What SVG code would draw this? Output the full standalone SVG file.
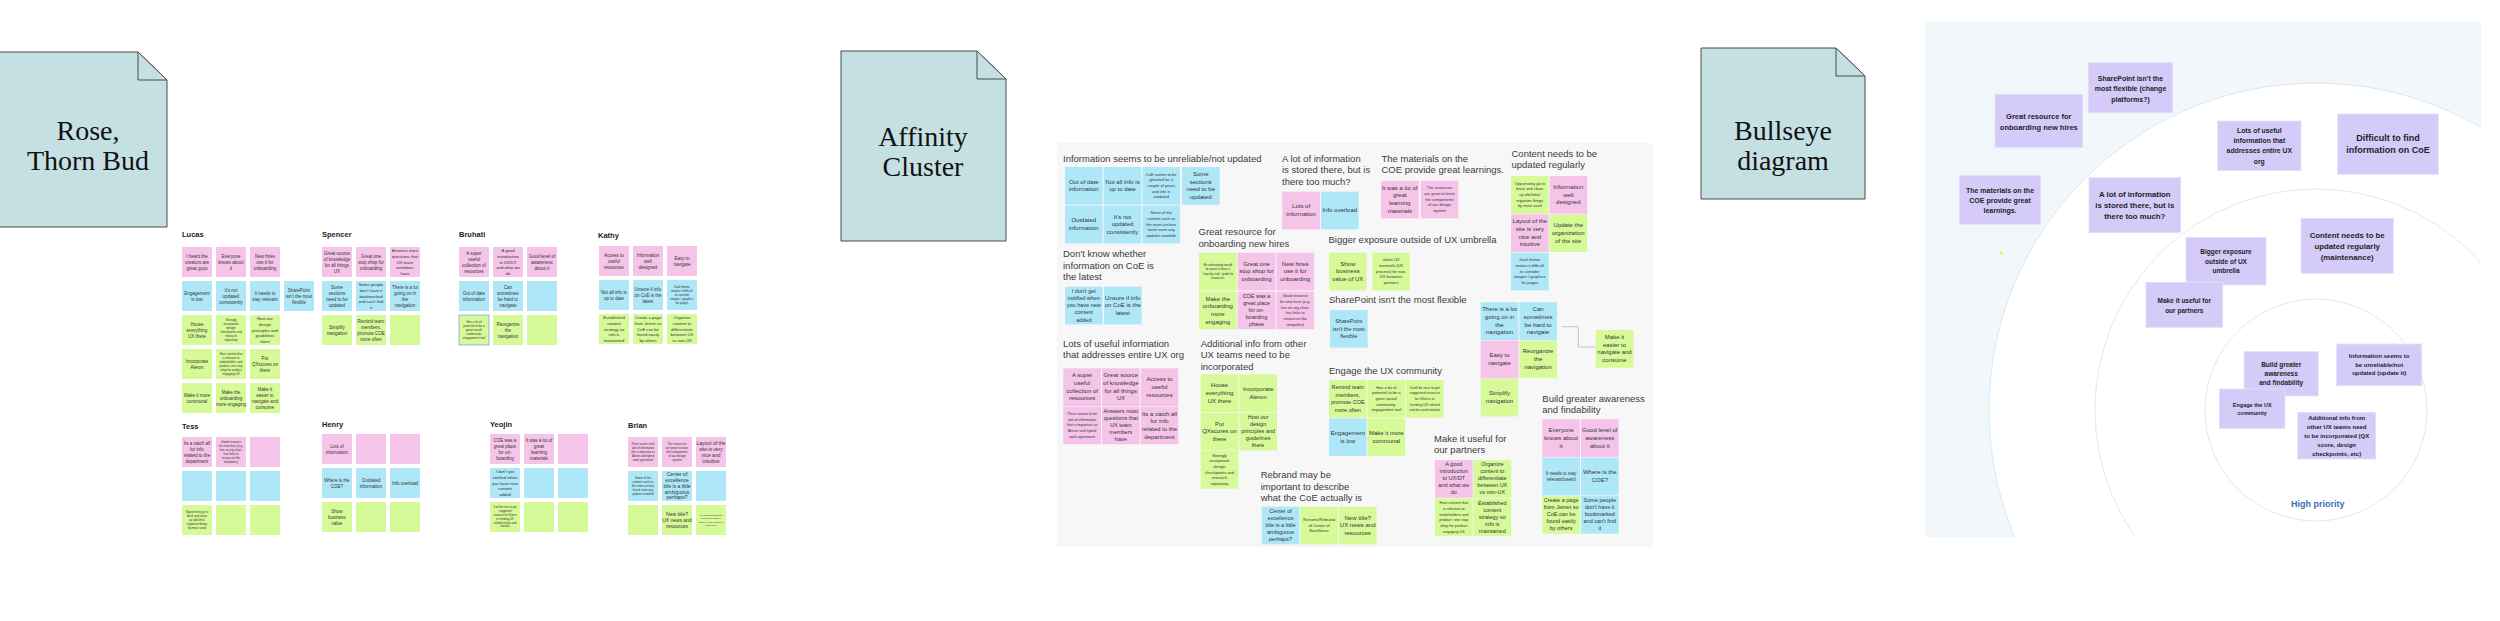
<svg xmlns="http://www.w3.org/2000/svg" width="2500" height="621" viewBox="0 0 2500 621">
<style>
.doc{fill:#c5e0e3;stroke:#4a4a4a;stroke-width:1}
.fold{fill:#c5e0e3;stroke:#4a4a4a;stroke-width:1}
.dt{font-family:"Liberation Serif","Times New Roman",serif;font-size:28px;fill:#111;text-anchor:middle}
.p{fill:#f6c4e9}.b{fill:#aee8f8}.g{fill:#d7fa98}
.t{font-family:"Liberation Sans",Arial,sans-serif;fill:#333;text-anchor:middle}
.nm{font-family:"Liberation Sans",Arial,sans-serif;font-weight:bold;font-size:7.5px;fill:#222}
.h{font-family:"Liberation Sans",Arial,sans-serif;font-size:9.5px;fill:#3b3b3b}
.pu{fill:#d5cbf9;stroke:#e4defb;stroke-width:0.8}
.bt{font-family:"Liberation Sans",Arial,sans-serif;font-weight:bold;fill:#1e1e28;text-anchor:middle}
.ring{fill:none;stroke:#dce8f2;stroke-width:1}
.conn{fill:none;stroke:#c4c4c4;stroke-width:1}
</style>
<defs>
<clipPath id="bclip"><rect x="1925" y="22" width="556" height="515"/></clipPath>
</defs>
<rect width="2500" height="621" fill="#ffffff"/>

<!-- Section documents -->
<g id="doc-rose">
<path class="doc" d="M-1,52 H138 L167,80 V227 H-1 Z"/>
<path class="fold" d="M138,52 V80 H167 Z"/>
<text class="dt" x="88" y="140">Rose,</text>
<text class="dt" x="88" y="170">Thorn Bud</text>
</g>
<g id="doc-affinity">
<path class="doc" d="M841,51 H977 L1006,79 V241 H841 Z"/>
<path class="fold" d="M977,51 V79 H1006 Z"/>
<text class="dt" x="923" y="146">Affinity</text>
<text class="dt" x="923" y="176">Cluster</text>
</g>
<g id="doc-bullseye">
<path class="doc" d="M1701,48 H1836 L1865,76 V199 H1701 Z"/>
<path class="fold" d="M1836,48 V76 H1865 Z"/>
<text class="dt" x="1783" y="140">Bullseye</text>
<text class="dt" x="1783" y="170">diagram</text>
</g>

<!-- ROSE THORN BUD -->
<g id="rtb-lucas">
<text class="nm" x="182" y="237">Lucas</text>
<rect class="p" x="182" y="247" width="30" height="30"/><text class="t" font-size="4.5" x="197" y="257.6"><tspan x="197">I heard the</tspan><tspan x="197" dy="6">creators are</tspan><tspan x="197" dy="6">great guys</tspan></text>
<rect class="p" x="216" y="247" width="30" height="30"/><text class="t" font-size="4.5" x="231" y="257.6"><tspan x="231">Everyone</tspan><tspan x="231" dy="6">knows about</tspan><tspan x="231" dy="6">it</tspan></text>
<rect class="p" x="250" y="247" width="30" height="30"/><text class="t" font-size="4.5" x="265" y="257.6"><tspan x="265">New hires</tspan><tspan x="265" dy="6">use it for</tspan><tspan x="265" dy="6">onboarding</tspan></text>
<rect class="b" x="182" y="281" width="30" height="30"/><text class="t" font-size="4.5" x="197" y="294.6"><tspan x="197">Engagement</tspan><tspan x="197" dy="6">is low</tspan></text>
<rect class="b" x="216" y="281" width="30" height="30"/><text class="t" font-size="4.5" x="231" y="291.6"><tspan x="231">It's not</tspan><tspan x="231" dy="6">updated</tspan><tspan x="231" dy="6">consistently</tspan></text>
<rect class="b" x="250" y="281" width="30" height="30"/><text class="t" font-size="4.5" x="265" y="294.6"><tspan x="265">It needs to</tspan><tspan x="265" dy="6">stay relevant</tspan></text>
<rect class="b" x="284" y="281" width="30" height="30"/><text class="t" font-size="4.5" x="299" y="291.6"><tspan x="299">SharePoint</tspan><tspan x="299" dy="6">isn't the most</tspan><tspan x="299" dy="6">flexible</tspan></text>
<rect class="g" x="182" y="315" width="30" height="30"/><text class="t" font-size="4.5" x="197" y="325.6"><tspan x="197">House</tspan><tspan x="197" dy="6">everything</tspan><tspan x="197" dy="6">UX there</tspan></text>
<rect class="g" x="216" y="315" width="30" height="30"/><text class="t" font-size="3" x="231" y="321.05"><tspan x="231">Strongly</tspan><tspan x="231" dy="4">incorporate</tspan><tspan x="231" dy="4">design</tspan><tspan x="231" dy="4">checkpoints and</tspan><tspan x="231" dy="4">research</tspan><tspan x="231" dy="4">repository</tspan></text>
<rect class="g" x="250" y="315" width="30" height="30"/><text class="t" font-size="4.2" x="265" y="320.3"><tspan x="265">Host our</tspan><tspan x="265" dy="5.6">design</tspan><tspan x="265" dy="5.6">principles and</tspan><tspan x="265" dy="5.6">guidelines</tspan><tspan x="265" dy="5.6">there</tspan></text>
<rect class="g" x="182" y="349" width="30" height="30"/><text class="t" font-size="4.5" x="197" y="362.6"><tspan x="197">Incorporate</tspan><tspan x="197" dy="6">Aleron</tspan></text>
<rect class="g" x="216" y="349" width="30" height="30"/><text class="t" font-size="3" x="231" y="355.05"><tspan x="231">Host content that</tspan><tspan x="231" dy="4">is relevant to</tspan><tspan x="231" dy="4">stakeholders and</tspan><tspan x="231" dy="4">product; one stop</tspan><tspan x="231" dy="4">shop for product</tspan><tspan x="231" dy="4">engaging UX</tspan></text>
<rect class="g" x="250" y="349" width="30" height="30"/><text class="t" font-size="4.5" x="265" y="359.6"><tspan x="265">Put</tspan><tspan x="265" dy="6">QXscores on</tspan><tspan x="265" dy="6">there</tspan></text>
<rect class="g" x="182" y="383" width="30" height="30"/><text class="t" font-size="4.5" x="197" y="396.6"><tspan x="197">Make it more</tspan><tspan x="197" dy="6">communal</tspan></text>
<rect class="g" x="216" y="383" width="30" height="30"/><text class="t" font-size="4.5" x="231" y="393.6"><tspan x="231">Make the</tspan><tspan x="231" dy="6">onboarding</tspan><tspan x="231" dy="6">more engaging</tspan></text>
<rect class="g" x="250" y="383" width="30" height="30"/><text class="t" font-size="4.5" x="265" y="390.6"><tspan x="265">Make it</tspan><tspan x="265" dy="6">easier to</tspan><tspan x="265" dy="6">navigate and</tspan><tspan x="265" dy="6">consume</tspan></text>
</g>

<g id="rtb-spencer">
<text class="nm" x="322" y="237">Spencer</text>
<rect class="p" x="322" y="247" width="30" height="30"/><text class="t" font-size="4.5" x="337" y="254.6"><tspan x="337">Great source</tspan><tspan x="337" dy="6">of knowledge</tspan><tspan x="337" dy="6">for all things</tspan><tspan x="337" dy="6">UX</tspan></text>
<rect class="p" x="356" y="247" width="30" height="30"/><text class="t" font-size="4.5" x="371" y="257.6"><tspan x="371">Great one</tspan><tspan x="371" dy="6">stop shop for</tspan><tspan x="371" dy="6">onboarding</tspan></text>
<rect class="p" x="390" y="247" width="30" height="30"/><text class="t" font-size="4.2" x="405" y="252.3"><tspan x="405">Answers most</tspan><tspan x="405" dy="5.6">questions that</tspan><tspan x="405" dy="5.6">UX team</tspan><tspan x="405" dy="5.6">members</tspan><tspan x="405" dy="5.6">have</tspan></text>
<rect class="b" x="322" y="281" width="30" height="30"/><text class="t" font-size="4.5" x="337" y="288.6"><tspan x="337">Some</tspan><tspan x="337" dy="6">sections</tspan><tspan x="337" dy="6">need to be</tspan><tspan x="337" dy="6">updated</tspan></text>
<rect class="b" x="356" y="281" width="30" height="30"/><text class="t" font-size="4.2" x="371" y="286.3"><tspan x="371">Some people</tspan><tspan x="371" dy="5.6">don't have it</tspan><tspan x="371" dy="5.6">bookmarked</tspan><tspan x="371" dy="5.6">and can't find</tspan><tspan x="371" dy="5.6">it</tspan></text>
<rect class="b" x="390" y="281" width="30" height="30"/><text class="t" font-size="4.5" x="405" y="288.6"><tspan x="405">There is a lot</tspan><tspan x="405" dy="6">going on in</tspan><tspan x="405" dy="6">the</tspan><tspan x="405" dy="6">navigation</tspan></text>
<rect class="g" x="322" y="315" width="30" height="30"/><text class="t" font-size="4.5" x="337" y="328.6"><tspan x="337">Simplify</tspan><tspan x="337" dy="6">navigation</tspan></text>
<rect class="g" x="356" y="315" width="30" height="30"/><text class="t" font-size="4.5" x="371" y="322.6"><tspan x="371">Remind team</tspan><tspan x="371" dy="6">members,</tspan><tspan x="371" dy="6">promote COE</tspan><tspan x="371" dy="6">more often</tspan></text>
<rect class="g" x="390" y="315" width="30" height="30"/>
</g>

<g id="rtb-bruhati">
<text class="nm" x="459" y="237">Bruhati</text>
<rect class="p" x="459" y="247" width="30" height="30"/><text class="t" font-size="4.5" x="474" y="254.6"><tspan x="474">A super</tspan><tspan x="474" dy="6">useful</tspan><tspan x="474" dy="6">collection of</tspan><tspan x="474" dy="6">resources</tspan></text>
<rect class="p" x="493" y="247" width="30" height="30"/><text class="t" font-size="4.2" x="508" y="252.3"><tspan x="508">A good</tspan><tspan x="508" dy="5.6">introduction</tspan><tspan x="508" dy="5.6">to UX/DT</tspan><tspan x="508" dy="5.6">and what we</tspan><tspan x="508" dy="5.6">do</tspan></text>
<rect class="p" x="527" y="247" width="30" height="30"/><text class="t" font-size="4.5" x="542" y="257.6"><tspan x="542">Good level of</tspan><tspan x="542" dy="6">awareness</tspan><tspan x="542" dy="6">about it</tspan></text>
<rect class="b" x="459" y="281" width="30" height="30"/><text class="t" font-size="4.5" x="474" y="294.6"><tspan x="474">Out of date</tspan><tspan x="474" dy="6">information</tspan></text>
<rect class="b" x="493" y="281" width="30" height="30"/><text class="t" font-size="4.5" x="508" y="288.6"><tspan x="508">Can</tspan><tspan x="508" dy="6">sometimes</tspan><tspan x="508" dy="6">be hard to</tspan><tspan x="508" dy="6">navigate</tspan></text>
<rect class="b" x="527" y="281" width="30" height="30"/>
<rect class="g" x="459" y="315" width="30" height="30" stroke="#7fa8e6" stroke-width="0.8"/><text class="t" font-size="3" x="474" y="323.05"><tspan x="474">Has a lot of</tspan><tspan x="474" dy="4">potential to be a</tspan><tspan x="474" dy="4">great social/</tspan><tspan x="474" dy="4">community-</tspan><tspan x="474" dy="4">engagement tool</tspan></text>
<rect class="g" x="493" y="315" width="30" height="30"/><text class="t" font-size="4.5" x="508" y="325.6"><tspan x="508">Reorganize</tspan><tspan x="508" dy="6">the</tspan><tspan x="508" dy="6">navigation</tspan></text>
<rect class="g" x="527" y="315" width="30" height="30"/>
</g>

<g id="rtb-kathy">
<text class="nm" x="598" y="237.5">Kathy</text>
<rect class="p" x="599" y="246" width="30" height="30"/><text class="t" font-size="4.5" x="614" y="256.6"><tspan x="614">Access to</tspan><tspan x="614" dy="6">useful</tspan><tspan x="614" dy="6">resources</tspan></text>
<rect class="p" x="633" y="246" width="30" height="30"/><text class="t" font-size="4.5" x="648" y="256.6"><tspan x="648">Information</tspan><tspan x="648" dy="6">well</tspan><tspan x="648" dy="6">designed</tspan></text>
<rect class="p" x="667" y="246" width="30" height="30"/><text class="t" font-size="4.5" x="682" y="259.6"><tspan x="682">Easy to</tspan><tspan x="682" dy="6">navigate</tspan></text>
<rect class="b" x="599" y="280" width="30" height="30"/><text class="t" font-size="4.5" x="614" y="293.6"><tspan x="614">Not all info is</tspan><tspan x="614" dy="6">up to date</tspan></text>
<rect class="b" x="633" y="280" width="30" height="30"/><text class="t" font-size="4.5" x="648" y="290.6"><tspan x="648">Unsure if info</tspan><tspan x="648" dy="6">on CoE is the</tspan><tspan x="648" dy="6">latest</tspan></text>
<rect class="b" x="667" y="280" width="30" height="30"/><text class="t" font-size="3" x="682" y="288.05"><tspan x="682">Dark theme</tspan><tspan x="682" dy="4">makes it difficult</tspan><tspan x="682" dy="4">to consider</tspan><tspan x="682" dy="4">images / graphics</tspan><tspan x="682" dy="4">for pages</tspan></text>
<rect class="g" x="599" y="314" width="30" height="30"/><text class="t" font-size="4.2" x="614" y="319.3"><tspan x="614">Established</tspan><tspan x="614" dy="5.6">content</tspan><tspan x="614" dy="5.6">strategy so</tspan><tspan x="614" dy="5.6">info is</tspan><tspan x="614" dy="5.6">maintained</tspan></text>
<rect class="g" x="633" y="314" width="30" height="30"/><text class="t" font-size="4.2" x="648" y="319.3"><tspan x="648">Create a page</tspan><tspan x="648" dy="5.6">from Jetnet so</tspan><tspan x="648" dy="5.6">CoE can be</tspan><tspan x="648" dy="5.6">found easily</tspan><tspan x="648" dy="5.6">by others</tspan></text>
<rect class="g" x="667" y="314" width="30" height="30"/><text class="t" font-size="4.2" x="682" y="319.3"><tspan x="682">Organize</tspan><tspan x="682" dy="5.6">content to</tspan><tspan x="682" dy="5.6">differentiate</tspan><tspan x="682" dy="5.6">between UX</tspan><tspan x="682" dy="5.6">vs non-UX</tspan></text>
</g>

<g id="rtb-tess">
<text class="nm" x="182" y="429">Tess</text>
<rect class="p" x="182" y="437" width="30" height="30"/><text class="t" font-size="4.5" x="197" y="444.6"><tspan x="197">Its a catch all</tspan><tspan x="197" dy="6">for info</tspan><tspan x="197" dy="6">related to the</tspan><tspan x="197" dy="6">department</tspan></text>
<rect class="p" x="216" y="437" width="30" height="30"/><text class="t" font-size="3" x="231" y="443.05"><tspan x="231">Good resource</tspan><tspan x="231" dy="4">for new hires (e.g.</tspan><tspan x="231" dy="4">has an org chart,</tspan><tspan x="231" dy="4">has links to</tspan><tspan x="231" dy="4">resources like</tspan><tspan x="231" dy="4">templates)</tspan></text>
<rect class="p" x="250" y="437" width="30" height="30"/>
<rect class="b" x="182" y="471" width="30" height="30"/>
<rect class="b" x="216" y="471" width="30" height="30"/>
<rect class="b" x="250" y="471" width="30" height="30"/>
<rect class="g" x="182" y="505" width="30" height="30"/><text class="t" font-size="3" x="197" y="513.05"><tspan x="197">Opportunity go to</tspan><tspan x="197" dy="4">back and clean</tspan><tspan x="197" dy="4">up old links/</tspan><tspan x="197" dy="4">organize things</tspan><tspan x="197" dy="4">by most used</tspan></text>
<rect class="g" x="216" y="505" width="30" height="30"/>
<rect class="g" x="250" y="505" width="30" height="30"/>
</g>

<g id="rtb-henry">
<text class="nm" x="322" y="426.5">Henry</text>
<rect class="p" x="322" y="434" width="30" height="30"/><text class="t" font-size="4.5" x="337" y="447.6"><tspan x="337">Lots of</tspan><tspan x="337" dy="6">information</tspan></text>
<rect class="p" x="356" y="434" width="30" height="30"/>
<rect class="p" x="390" y="434" width="30" height="30"/>
<rect class="b" x="322" y="468" width="30" height="30"/><text class="t" font-size="4.5" x="337" y="481.6"><tspan x="337">Where is the</tspan><tspan x="337" dy="6">COE?</tspan></text>
<rect class="b" x="356" y="468" width="30" height="30"/><text class="t" font-size="4.5" x="371" y="481.6"><tspan x="371">Outdated</tspan><tspan x="371" dy="6">information</tspan></text>
<rect class="b" x="390" y="468" width="30" height="30"/><text class="t" font-size="4.5" x="405" y="484.6">Info overload</text>
<rect class="g" x="322" y="502" width="30" height="30"/><text class="t" font-size="4.5" x="337" y="512.6"><tspan x="337">Show</tspan><tspan x="337" dy="6">business</tspan><tspan x="337" dy="6">value</tspan></text>
<rect class="g" x="356" y="502" width="30" height="30"/>
<rect class="g" x="390" y="502" width="30" height="30"/>
</g>

<g id="rtb-yeojin">
<text class="nm" x="490" y="426.5">Yeojin</text>
<rect class="p" x="490" y="434" width="30" height="30"/><text class="t" font-size="4.5" x="505" y="441.6"><tspan x="505">COE was a</tspan><tspan x="505" dy="6">great place</tspan><tspan x="505" dy="6">for on-</tspan><tspan x="505" dy="6">boarding</tspan></text>
<rect class="p" x="524" y="434" width="30" height="30"/><text class="t" font-size="4.5" x="539" y="441.6"><tspan x="539">It was a lot of</tspan><tspan x="539" dy="6">great</tspan><tspan x="539" dy="6">learning</tspan><tspan x="539" dy="6">materials</tspan></text>
<rect class="p" x="558" y="434" width="30" height="30"/>
<rect class="b" x="490" y="468" width="30" height="30"/><text class="t" font-size="4.2" x="505" y="473.3"><tspan x="505">I don't get</tspan><tspan x="505" dy="5.6">notified when</tspan><tspan x="505" dy="5.6">you have new</tspan><tspan x="505" dy="5.6">content</tspan><tspan x="505" dy="5.6">added</tspan></text>
<rect class="b" x="524" y="468" width="30" height="30"/>
<rect class="b" x="558" y="468" width="30" height="30"/>
<rect class="g" x="490" y="502" width="30" height="30"/><text class="t" font-size="2.7" x="505" y="508.45"><tspan x="505">It will be nice to get</tspan><tspan x="505" dy="3.8">suggested</tspan><tspan x="505" dy="3.8">resource for Ufixers</tspan><tspan x="505" dy="3.8">or trending UX</tspan><tspan x="505" dy="3.8">related articles and</tspan><tspan x="505" dy="3.8">tutorials</tspan></text>
<rect class="g" x="524" y="502" width="30" height="30"/>
<rect class="g" x="558" y="502" width="30" height="30"/>
</g>

<g id="rtb-brian">
<text class="nm" x="628" y="427.5">Brian</text>
<rect class="p" x="628" y="437" width="30" height="30"/><text class="t" font-size="2.8" x="643" y="445.2"><tspan x="643">There seems to be</tspan><tspan x="643" dy="3.9">alot of information</tspan><tspan x="643" dy="3.9">that is important as</tspan><tspan x="643" dy="3.9">Aleron and hybrid</tspan><tspan x="643" dy="3.9">work agreement</tspan></text>
<rect class="p" x="662" y="437" width="30" height="30"/><text class="t" font-size="3" x="677" y="445.05"><tspan x="677">The resources</tspan><tspan x="677" dy="4">are great to learn</tspan><tspan x="677" dy="4">the components</tspan><tspan x="677" dy="4">of our design</tspan><tspan x="677" dy="4">system</tspan></text>
<rect class="p" x="696" y="437" width="30" height="30"/><text class="t" font-size="5" x="711" y="444.75"><tspan x="711">Layout of the</tspan><tspan x="711" dy="6">site is very</tspan><tspan x="711" dy="6">nice and</tspan><tspan x="711" dy="6">intuitive</tspan></text>
<rect class="b" x="628" y="471" width="30" height="30"/><text class="t" font-size="3" x="643" y="479.05"><tspan x="643">Some of the</tspan><tspan x="643" dy="4">content such as</tspan><tspan x="643" dy="4">the news archive</tspan><tspan x="643" dy="4">hasnt seen any</tspan><tspan x="643" dy="4">updates inawhile</tspan></text>
<rect class="b" x="662" y="471" width="30" height="30"/><text class="t" font-size="5" x="677" y="476.15"><tspan x="677">Center of</tspan><tspan x="677" dy="5.8">excellence</tspan><tspan x="677" dy="5.8">title is a little</tspan><tspan x="677" dy="5.8">ambiguous</tspan><tspan x="677" dy="5.8">perhaps?</tspan></text>
<rect class="b" x="696" y="471" width="30" height="30"/>
<rect class="g" x="628" y="505" width="30" height="30"/>
<rect class="g" x="662" y="505" width="30" height="30"/><text class="t" font-size="5" x="677" y="515.75"><tspan x="677">New title?</tspan><tspan x="677" dy="6">UX news and</tspan><tspan x="677" dy="6">resources</tspan></text>
<rect class="g" x="696" y="505" width="30" height="30"/><text class="t" font-size="2.4" x="711" y="515.6"><tspan x="711">Re onboarding would</tspan><tspan x="711" dy="3.5">be great to have a</tspan><tspan x="711" dy="3.5">"step-by-step" guide for</tspan><tspan x="711" dy="3.5">resources.</tspan></text>
</g>

<!-- AFFINITY CLUSTER -->
<rect id="affinity-board" x="1057" y="143" width="596" height="404" fill="#f7f7f7"/>

<g id="af-unreliable">
<text class="h" x="1063" y="162">Information seems to be unreliable/not updated</text>
<rect class="b" x="1065" y="167" width="37.7" height="37.7"/><text class="t" font-size="6" x="1083.8" y="183.75"><tspan x="1083.8">Out of date</tspan><tspan x="1083.8" dy="7.7">information</tspan></text>
<rect class="b" x="1103.7" y="167" width="37.7" height="37.7"/><text class="t" font-size="6" x="1122.5" y="183.75"><tspan x="1122.5">Not all info is</tspan><tspan x="1122.5" dy="7.7">up to date</tspan></text>
<rect class="b" x="1142.4" y="167" width="37.7" height="37.7"/><text class="t" font-size="4" x="1161.2" y="175.5"><tspan x="1161.2">CoE seems to be</tspan><tspan x="1161.2" dy="5.7">ghosted for a</tspan><tspan x="1161.2" dy="5.7">couple of years</tspan><tspan x="1161.2" dy="5.7">and info is</tspan><tspan x="1161.2" dy="5.7">outdated</tspan></text>
<rect class="b" x="1182" y="167" width="37.7" height="37.7"/><text class="t" font-size="6" x="1200.8" y="176.05"><tspan x="1200.8">Some</tspan><tspan x="1200.8" dy="7.7">sections</tspan><tspan x="1200.8" dy="7.7">need to be</tspan><tspan x="1200.8" dy="7.7">updated</tspan></text>
<rect class="b" x="1065" y="205.7" width="37.7" height="37.7"/><text class="t" font-size="6" x="1083.8" y="222.45"><tspan x="1083.8">Outdated</tspan><tspan x="1083.8" dy="7.7">information</tspan></text>
<rect class="b" x="1103.7" y="205.7" width="37.7" height="37.7"/><text class="t" font-size="6" x="1122.5" y="218.6"><tspan x="1122.5">It's not</tspan><tspan x="1122.5" dy="7.7">updated</tspan><tspan x="1122.5" dy="7.7">consistently</tspan></text>
<rect class="b" x="1142.4" y="205.7" width="37.7" height="37.7"/><text class="t" font-size="4" x="1161.2" y="214.2"><tspan x="1161.2">Some of the</tspan><tspan x="1161.2" dy="5.7">content such as</tspan><tspan x="1161.2" dy="5.7">the news archive</tspan><tspan x="1161.2" dy="5.7">hasnt seen any</tspan><tspan x="1161.2" dy="5.7">updates inawhile</tspan></text>
</g>

<g id="af-latest">
<text class="h" x="1063" y="257.3"><tspan x="1063">Don't know whether</tspan><tspan x="1063" dy="11.5">information on CoE is</tspan><tspan x="1063" dy="11.5">the latest</tspan></text>
<rect class="b" x="1065" y="286.7" width="37.7" height="37.7"/><text class="t" font-size="5.5" x="1083.8" y="292.7"><tspan x="1083.8">I don't get</tspan><tspan x="1083.8" dy="7.2">notified when</tspan><tspan x="1083.8" dy="7.2">you have new</tspan><tspan x="1083.8" dy="7.2">content</tspan><tspan x="1083.8" dy="7.2">added</tspan></text>
<rect class="b" x="1104" y="286.7" width="37.7" height="37.7"/><text class="t" font-size="6" x="1122.8" y="299.6"><tspan x="1122.8">Unsure if info</tspan><tspan x="1122.8" dy="7.7">on CoE is the</tspan><tspan x="1122.8" dy="7.7">latest</tspan></text>
</g>

<g id="af-useful">
<text class="h" x="1063" y="346.5"><tspan x="1063">Lots of useful information</tspan><tspan x="1063" dy="11.5">that addresses entire UX org</tspan></text>
<rect class="p" x="1063.3" y="368.3" width="37.7" height="37.7"/><text class="t" font-size="6" x="1082.1" y="377.35"><tspan x="1082.1">A super</tspan><tspan x="1082.1" dy="7.7">useful</tspan><tspan x="1082.1" dy="7.7">collection of</tspan><tspan x="1082.1" dy="7.7">resources</tspan></text>
<rect class="p" x="1102" y="368.3" width="37.7" height="37.7"/><text class="t" font-size="6" x="1120.8" y="377.35"><tspan x="1120.8">Great source</tspan><tspan x="1120.8" dy="7.7">of knowledge</tspan><tspan x="1120.8" dy="7.7">for all things</tspan><tspan x="1120.8" dy="7.7">UX</tspan></text>
<rect class="p" x="1140.7" y="368.3" width="37.7" height="37.7"/><text class="t" font-size="6" x="1159.5" y="381.2"><tspan x="1159.5">Access to</tspan><tspan x="1159.5" dy="7.7">useful</tspan><tspan x="1159.5" dy="7.7">resources</tspan></text>
<rect class="p" x="1063.3" y="406.6" width="37.7" height="37.7"/><text class="t" font-size="3.6" x="1082.1" y="415"><tspan x="1082.1">There seems to be</tspan><tspan x="1082.1" dy="5.7">alot of information</tspan><tspan x="1082.1" dy="5.7">that is important as</tspan><tspan x="1082.1" dy="5.7">Aleron and hybrid</tspan><tspan x="1082.1" dy="5.7">work agreement</tspan></text>
<rect class="p" x="1102" y="406.6" width="37.7" height="37.7"/><text class="t" font-size="5.5" x="1120.8" y="413"><tspan x="1120.8">Answers most</tspan><tspan x="1120.8" dy="7">questions that</tspan><tspan x="1120.8" dy="7">UX team</tspan><tspan x="1120.8" dy="7">members</tspan><tspan x="1120.8" dy="7">have</tspan></text>
<rect class="p" x="1140.7" y="406.6" width="37.7" height="37.7"/><text class="t" font-size="6" x="1159.5" y="415.65"><tspan x="1159.5">Its a catch all</tspan><tspan x="1159.5" dy="7.7">for info</tspan><tspan x="1159.5" dy="7.7">related to the</tspan><tspan x="1159.5" dy="7.7">department</tspan></text>
</g>

<g id="af-onboarding">
<text class="h" x="1198.5" y="235"><tspan x="1198.5">Great resource for</tspan><tspan x="1198.5" dy="11.7">onboarding new hires</tspan></text>
<rect class="g" x="1199" y="252.7" width="37.7" height="37.7"/><text class="t" font-size="3" x="1217.8" y="265.5"><tspan x="1217.8">Re onboarding would</tspan><tspan x="1217.8" dy="4.5">be great to have a</tspan><tspan x="1217.8" dy="4.5">"step-by-step" guide for</tspan><tspan x="1217.8" dy="4.5">resources.</tspan></text>
<rect class="p" x="1237.7" y="252.7" width="37.7" height="37.7"/><text class="t" font-size="6" x="1256.5" y="265.6"><tspan x="1256.5">Great one</tspan><tspan x="1256.5" dy="7.7">stop shop for</tspan><tspan x="1256.5" dy="7.7">onboarding</tspan></text>
<rect class="p" x="1276.4" y="252.7" width="37.7" height="37.7"/><text class="t" font-size="6" x="1295.2" y="265.6"><tspan x="1295.2">New hires</tspan><tspan x="1295.2" dy="7.7">use it for</tspan><tspan x="1295.2" dy="7.7">onboarding</tspan></text>
<rect class="g" x="1199" y="291.5" width="37.7" height="37.7"/><text class="t" font-size="6" x="1217.8" y="300.55"><tspan x="1217.8">Make the</tspan><tspan x="1217.8" dy="7.7">onboarding</tspan><tspan x="1217.8" dy="7.7">more</tspan><tspan x="1217.8" dy="7.7">engaging</tspan></text>
<rect class="p" x="1237.7" y="291.5" width="37.7" height="37.7"/><text class="t" font-size="5.5" x="1256.5" y="297.9"><tspan x="1256.5">COE was a</tspan><tspan x="1256.5" dy="7">great place</tspan><tspan x="1256.5" dy="7">for on-</tspan><tspan x="1256.5" dy="7">boarding</tspan><tspan x="1256.5" dy="7">phase</tspan></text>
<rect class="p" x="1276.4" y="291.5" width="37.7" height="37.7"/><text class="t" font-size="3.8" x="1295.2" y="297.15"><tspan x="1295.2">Good resource</tspan><tspan x="1295.2" dy="5.7">for new hires (e.g.</tspan><tspan x="1295.2" dy="5.7">has an org chart,</tspan><tspan x="1295.2" dy="5.7">has links to</tspan><tspan x="1295.2" dy="5.7">resources like</tspan><tspan x="1295.2" dy="5.7">tempaltes)</tspan></text>
</g>

<g id="af-toomuch">
<text class="h" x="1282" y="161.7"><tspan x="1282">A lot of information</tspan><tspan x="1282" dy="11.6">is stored there, but is</tspan><tspan x="1282" dy="11.6">there too much?</tspan></text>
<rect class="p" x="1282.3" y="191.7" width="37.7" height="37.7"/><text class="t" font-size="6" x="1301.1" y="208.45"><tspan x="1301.1">Lots of</tspan><tspan x="1301.1" dy="7.7">information</tspan></text>
<rect class="b" x="1321" y="191.7" width="37.7" height="37.7"/><text class="t" font-size="6" x="1339.8" y="212.3">Info overload</text>
</g>

<g id="af-exposure">
<text class="h" x="1328.5" y="243.3">Bigger exposure outside of UX umbrella</text>
<rect class="g" x="1329" y="252.7" width="37.7" height="37.7"/><text class="t" font-size="6" x="1347.8" y="265.6"><tspan x="1347.8">Show</tspan><tspan x="1347.8" dy="7.7">business</tspan><tspan x="1347.8" dy="7.7">value of UX</tspan></text>
<rect class="g" x="1372.3" y="252.7" width="37.7" height="37.7"/><text class="t" font-size="4" x="1391.1" y="261.2"><tspan x="1391.1">utilize UX</tspan><tspan x="1391.1" dy="5.7">materials (UX</tspan><tspan x="1391.1" dy="5.7">process) for non-</tspan><tspan x="1391.1" dy="5.7">UX business</tspan><tspan x="1391.1" dy="5.7">partners</tspan></text>
</g>

<g id="af-sharepoint">
<text class="h" x="1329" y="303.3">SharePoint isn't the most flexible</text>
<rect class="b" x="1330" y="310" width="37.7" height="37.7"/><text class="t" font-size="5.5" x="1348.8" y="322.9"><tspan x="1348.8">SharePoint</tspan><tspan x="1348.8" dy="7.7">isn't the most</tspan><tspan x="1348.8" dy="7.7">flexible</tspan></text>
</g>

<g id="af-materials">
<text class="h" x="1381.5" y="161.7"><tspan x="1381.5">The materials on the</tspan><tspan x="1381.5" dy="11.6">COE provide great learnings.</tspan></text>
<rect class="p" x="1381" y="180.7" width="37.7" height="37.7"/><text class="t" font-size="6" x="1399.8" y="189.75"><tspan x="1399.8">It was a lot of</tspan><tspan x="1399.8" dy="7.7">great</tspan><tspan x="1399.8" dy="7.7">learning</tspan><tspan x="1399.8" dy="7.7">materials</tspan></text>
<rect class="p" x="1420.7" y="180.7" width="37.7" height="37.7"/><text class="t" font-size="4" x="1439.5" y="189.2"><tspan x="1439.5">The resources</tspan><tspan x="1439.5" dy="5.7">are great to learn</tspan><tspan x="1439.5" dy="5.7">the components</tspan><tspan x="1439.5" dy="5.7">of our design</tspan><tspan x="1439.5" dy="5.7">system</tspan></text>
</g>

<g id="af-content">
<text class="h" x="1511.5" y="156.7"><tspan x="1511.5">Content needs to be</tspan><tspan x="1511.5" dy="11.5">updated regularly</tspan></text>
<rect class="g" x="1511" y="176" width="37.7" height="37.7"/><text class="t" font-size="4" x="1529.8" y="184.5"><tspan x="1529.8">Oppurtunity go to</tspan><tspan x="1529.8" dy="5.7">back and clean</tspan><tspan x="1529.8" dy="5.7">up old links/</tspan><tspan x="1529.8" dy="5.7">organize things</tspan><tspan x="1529.8" dy="5.7">by most used</tspan></text>
<rect class="p" x="1549.5" y="176" width="37.7" height="37.7"/><text class="t" font-size="6" x="1568.3" y="188.9"><tspan x="1568.3">Information</tspan><tspan x="1568.3" dy="7.7">well</tspan><tspan x="1568.3" dy="7.7">designed</tspan></text>
<rect class="p" x="1511" y="214.3" width="37.7" height="37.7"/><text class="t" font-size="6" x="1529.8" y="223.35"><tspan x="1529.8">Layout of the</tspan><tspan x="1529.8" dy="7.7">site is very</tspan><tspan x="1529.8" dy="7.7">nice and</tspan><tspan x="1529.8" dy="7.7">intuitive</tspan></text>
<rect class="g" x="1549.5" y="214.3" width="37.7" height="37.7"/><text class="t" font-size="6" x="1568.3" y="227.2"><tspan x="1568.3">Update the</tspan><tspan x="1568.3" dy="7.7">organization</tspan><tspan x="1568.3" dy="7.7">of the site</tspan></text>
<rect class="b" x="1511" y="252.7" width="37.7" height="37.7"/><text class="t" font-size="4" x="1529.8" y="261.2"><tspan x="1529.8">Dark theme</tspan><tspan x="1529.8" dy="5.7">makes it difficult</tspan><tspan x="1529.8" dy="5.7">to consider</tspan><tspan x="1529.8" dy="5.7">images / graphics</tspan><tspan x="1529.8" dy="5.7">for pages</tspan></text>
</g>

<g id="af-navigation">
<rect class="b" x="1480.7" y="302.3" width="37.7" height="37.7"/><text class="t" font-size="6" x="1499.5" y="311.35"><tspan x="1499.5">There is a lot</tspan><tspan x="1499.5" dy="7.7">going on in</tspan><tspan x="1499.5" dy="7.7">the</tspan><tspan x="1499.5" dy="7.7">navigation</tspan></text>
<rect class="b" x="1519.3" y="302.3" width="37.7" height="37.7"/><text class="t" font-size="6" x="1538.1" y="311.35"><tspan x="1538.1">Can</tspan><tspan x="1538.1" dy="7.7">sometimes</tspan><tspan x="1538.1" dy="7.7">be hard to</tspan><tspan x="1538.1" dy="7.7">navigate</tspan></text>
<rect class="p" x="1480.7" y="340.5" width="37.7" height="37.7"/><text class="t" font-size="6" x="1499.5" y="357.25"><tspan x="1499.5">Easy to</tspan><tspan x="1499.5" dy="7.7">navigate</tspan></text>
<rect class="g" x="1519.3" y="340.5" width="37.7" height="37.7"/><text class="t" font-size="6" x="1538.1" y="353.4"><tspan x="1538.1">Reorganize</tspan><tspan x="1538.1" dy="7.7">the</tspan><tspan x="1538.1" dy="7.7">navigation</tspan></text>
<rect class="g" x="1480.7" y="378.7" width="37.7" height="37.7"/><text class="t" font-size="6" x="1499.5" y="395.45"><tspan x="1499.5">Simplify</tspan><tspan x="1499.5" dy="7.7">navigation</tspan></text>
</g>

<g id="af-easier">
<rect class="g" x="1595.7" y="330" width="37.7" height="37.7"/><text class="t" font-size="6" x="1614.5" y="339.05"><tspan x="1614.5">Make it</tspan><tspan x="1614.5" dy="7.7">easier to</tspan><tspan x="1614.5" dy="7.7">navigate and</tspan><tspan x="1614.5" dy="7.7">consume</tspan></text>
</g>

<g id="af-additional">
<text class="h" x="1200.7" y="346.7"><tspan x="1200.7">Additional info from other</tspan><tspan x="1200.7" dy="11.5">UX teams need to be</tspan><tspan x="1200.7" dy="11.5">incorporated</tspan></text>
<rect class="g" x="1200.7" y="374.3" width="37.7" height="37.7"/><text class="t" font-size="6" x="1219.5" y="387.2"><tspan x="1219.5">House</tspan><tspan x="1219.5" dy="7.7">everything</tspan><tspan x="1219.5" dy="7.7">UX there</tspan></text>
<rect class="g" x="1239.3" y="374.3" width="37.7" height="37.7"/><text class="t" font-size="6" x="1258.1" y="391.05"><tspan x="1258.1">Incorporate</tspan><tspan x="1258.1" dy="7.7">Aleron</tspan></text>
<rect class="g" x="1200.7" y="412.7" width="37.7" height="37.7"/><text class="t" font-size="6" x="1219.5" y="425.6"><tspan x="1219.5">Put</tspan><tspan x="1219.5" dy="7.7">QXscores on</tspan><tspan x="1219.5" dy="7.7">there</tspan></text>
<rect class="g" x="1239.3" y="412.7" width="37.7" height="37.7"/><text class="t" font-size="5.5" x="1258.1" y="419.1"><tspan x="1258.1">Host our</tspan><tspan x="1258.1" dy="7">design</tspan><tspan x="1258.1" dy="7">principles and</tspan><tspan x="1258.1" dy="7">guidelines</tspan><tspan x="1258.1" dy="7">there</tspan></text>
<rect class="g" x="1200.7" y="451" width="37.7" height="37.7"/><text class="t" font-size="4" x="1219.5" y="456.65"><tspan x="1219.5">Strongly</tspan><tspan x="1219.5" dy="5.7">incorporate</tspan><tspan x="1219.5" dy="5.7">design</tspan><tspan x="1219.5" dy="5.7">checkpoints and</tspan><tspan x="1219.5" dy="5.7">research</tspan><tspan x="1219.5" dy="5.7">repository</tspan></text>
</g>

<g id="af-engage">
<text class="h" x="1329" y="374.3">Engage the UX community</text>
<rect class="g" x="1329" y="380" width="37.7" height="37.7"/><text class="t" font-size="5.5" x="1347.8" y="389.05"><tspan x="1347.8">Remind team</tspan><tspan x="1347.8" dy="7.7">members,</tspan><tspan x="1347.8" dy="7.7">promote COE</tspan><tspan x="1347.8" dy="7.7">more often</tspan></text>
<rect class="g" x="1367.5" y="380" width="37.7" height="37.7"/><text class="t" font-size="4" x="1386.3" y="388.5"><tspan x="1386.3">Has a lot of</tspan><tspan x="1386.3" dy="5.7">potential to be a</tspan><tspan x="1386.3" dy="5.7">great social/</tspan><tspan x="1386.3" dy="5.7">community-</tspan><tspan x="1386.3" dy="5.7">engagement tool</tspan></text>
<rect class="g" x="1406" y="380" width="37.7" height="37.7"/><text class="t" font-size="3.5" x="1424.8" y="388.5"><tspan x="1424.8">It will be nice to get</tspan><tspan x="1424.8" dy="5.7">suggested resource</tspan><tspan x="1424.8" dy="5.7">for Ufixers or</tspan><tspan x="1424.8" dy="5.7">trending UX related</tspan><tspan x="1424.8" dy="5.7">articles and tutorials</tspan></text>
<rect class="b" x="1329" y="418.3" width="37.7" height="37.7"/><text class="t" font-size="6" x="1347.8" y="435.05"><tspan x="1347.8">Engagement</tspan><tspan x="1347.8" dy="7.7">is low</tspan></text>
<rect class="g" x="1367.5" y="418.3" width="37.7" height="37.7"/><text class="t" font-size="6" x="1386.3" y="435.05"><tspan x="1386.3">Make it more</tspan><tspan x="1386.3" dy="7.7">communal</tspan></text>
</g>

<g id="af-rebrand">
<text class="h" x="1260.7" y="478.3"><tspan x="1260.7">Rebrand may be</tspan><tspan x="1260.7" dy="11.5">important to describe</tspan><tspan x="1260.7" dy="11.5">what the CoE actually is</tspan></text>
<rect class="b" x="1261.7" y="506.7" width="37.7" height="37.7"/><text class="t" font-size="5.5" x="1280.5" y="513.1"><tspan x="1280.5">Center of</tspan><tspan x="1280.5" dy="7">excellence</tspan><tspan x="1280.5" dy="7">title is a little</tspan><tspan x="1280.5" dy="7">ambiguous</tspan><tspan x="1280.5" dy="7">perhaps?</tspan></text>
<rect class="g" x="1300.3" y="506.7" width="37.7" height="37.7"/><text class="t" font-size="4" x="1319.1" y="520.9"><tspan x="1319.1">Rename/Rebrand</tspan><tspan x="1319.1" dy="5.7">of Center of</tspan><tspan x="1319.1" dy="5.7">Excellence</tspan></text>
<rect class="g" x="1338.9" y="506.7" width="37.7" height="37.7"/><text class="t" font-size="6" x="1357.7" y="519.6"><tspan x="1357.7">New title?</tspan><tspan x="1357.7" dy="7.7">UX news and</tspan><tspan x="1357.7" dy="7.7">resources</tspan></text>
</g>

<g id="af-partners">
<text class="h" x="1434" y="441.7"><tspan x="1434">Make it useful for</tspan><tspan x="1434" dy="11.5">our partners</tspan></text>
<rect class="p" x="1435" y="460" width="37.7" height="37.7"/><text class="t" font-size="5.5" x="1453.8" y="466.4"><tspan x="1453.8">A good</tspan><tspan x="1453.8" dy="7">introduction</tspan><tspan x="1453.8" dy="7">to UX/DT</tspan><tspan x="1453.8" dy="7">and what we</tspan><tspan x="1453.8" dy="7">do</tspan></text>
<rect class="g" x="1473.5" y="460" width="37.7" height="37.7"/><text class="t" font-size="5.5" x="1492.3" y="466.4"><tspan x="1492.3">Organize</tspan><tspan x="1492.3" dy="7">content to</tspan><tspan x="1492.3" dy="7">differentiate</tspan><tspan x="1492.3" dy="7">between UX</tspan><tspan x="1492.3" dy="7">vs non-UX</tspan></text>
<rect class="g" x="1435" y="498.5" width="37.7" height="37.7"/><text class="t" font-size="3.8" x="1453.8" y="504.15"><tspan x="1453.8">Host content that</tspan><tspan x="1453.8" dy="5.7">is relevant to</tspan><tspan x="1453.8" dy="5.7">stakeholders and</tspan><tspan x="1453.8" dy="5.7">product; one stop</tspan><tspan x="1453.8" dy="5.7">shop for product</tspan><tspan x="1453.8" dy="5.7">engaging UX</tspan></text>
<rect class="g" x="1473.5" y="498.5" width="37.7" height="37.7"/><text class="t" font-size="5.5" x="1492.3" y="504.9"><tspan x="1492.3">Established</tspan><tspan x="1492.3" dy="7">content</tspan><tspan x="1492.3" dy="7">strategy so</tspan><tspan x="1492.3" dy="7">info is</tspan><tspan x="1492.3" dy="7">maintained</tspan></text>
</g>

<g id="af-awareness">
<text class="h" x="1542.3" y="401.7"><tspan x="1542.3">Build greater awareness</tspan><tspan x="1542.3" dy="11.5">and findability</tspan></text>
<rect class="p" x="1542.3" y="419.3" width="37.7" height="37.7"/><text class="t" font-size="6" x="1561.1" y="432.2"><tspan x="1561.1">Everyone</tspan><tspan x="1561.1" dy="7.7">knows about</tspan><tspan x="1561.1" dy="7.7">it</tspan></text>
<rect class="p" x="1581" y="419.3" width="37.7" height="37.7"/><text class="t" font-size="6" x="1599.8" y="432.2"><tspan x="1599.8">Good level of</tspan><tspan x="1599.8" dy="7.7">awareness</tspan><tspan x="1599.8" dy="7.7">about it</tspan></text>
<rect class="b" x="1542.3" y="457.7" width="37.7" height="37.7"/><text class="t" font-size="4.5" x="1561.1" y="474.85"><tspan x="1561.1">It needs to stay</tspan><tspan x="1561.1" dy="5.7">relevant/useful</tspan></text>
<rect class="b" x="1581" y="457.7" width="37.7" height="37.7"/><text class="t" font-size="6" x="1599.8" y="474.45"><tspan x="1599.8">Where is the</tspan><tspan x="1599.8" dy="7.7">COE?</tspan></text>
<rect class="g" x="1542.3" y="496" width="37.7" height="37.7"/><text class="t" font-size="5.5" x="1561.1" y="502.4"><tspan x="1561.1">Create a page</tspan><tspan x="1561.1" dy="7">from Jetnet so</tspan><tspan x="1561.1" dy="7">CoE can be</tspan><tspan x="1561.1" dy="7">found easily</tspan><tspan x="1561.1" dy="7">by others</tspan></text>
<rect class="b" x="1581" y="496" width="37.7" height="37.7"/><text class="t" font-size="5.5" x="1599.8" y="502.4"><tspan x="1599.8">Some people</tspan><tspan x="1599.8" dy="7">don't have it</tspan><tspan x="1599.8" dy="7">bookmarked</tspan><tspan x="1599.8" dy="7">and can't find</tspan><tspan x="1599.8" dy="7">it</tspan></text>
</g>

<g id="connectors">
<path class="conn" d="M1561.5,326.7 H1578.3 V347 H1595.7"/>
</g>

<!-- BULLSEYE -->
<g id="bullseye-rings" clip-path="url(#bclip)">
<rect x="1925" y="22" width="556" height="515" fill="#f1f7fb"/>
<circle cx="2316" cy="410" r="327" fill="#ffffff" stroke="#dce8f2" stroke-width="1"/>
<circle class="ring" cx="2316" cy="410" r="221"/>
<circle class="ring" cx="2316" cy="410" r="111"/>
</g>
<text id="label-high" x="2317.7" y="506.5" font-family="'Liberation Sans',Arial,sans-serif" font-size="9" font-weight="bold" fill="#3a6fb3" text-anchor="middle">High priority</text>
<rect x="1999.5" y="251.5" width="3" height="3" fill="#f5e86c"/>

<g id="be-sharepoint"><rect class="pu" x="2088.3" y="62.7" width="84.4" height="50"/><text class="bt" font-size="7" x="2130.5" y="80.5"><tspan x="2130.5">SharePoint isn't the</tspan><tspan x="2130.5" dy="10.5">most flexible (change</tspan><tspan x="2130.5" dy="10.5">platforms?)</tspan></text></g>
<g id="be-onboarding"><rect class="pu" x="1995" y="94.3" width="87.7" height="53"/><text class="bt" font-size="7.5" x="2038.8" y="118.8"><tspan x="2038.8">Great resource for</tspan><tspan x="2038.8" dy="10.7">onboarding new hires</tspan></text></g>
<g id="be-materials"><rect class="pu" x="1959.3" y="175.7" width="81.4" height="48.6"/><text class="bt" font-size="7" x="2000" y="192.6"><tspan x="2000">The materials on the</tspan><tspan x="2000" dy="10.3">COE provide great</tspan><tspan x="2000" dy="10.3">learnings.</tspan></text></g>
<g id="be-toomuch"><rect class="pu" x="2089" y="177.7" width="91.7" height="55"/><text class="bt" font-size="7.8" x="2134.8" y="197"><tspan x="2134.8">A lot of information</tspan><tspan x="2134.8" dy="11.2">is stored there, but is</tspan><tspan x="2134.8" dy="11.2">there too much?</tspan></text></g>
<g id="be-useful"><rect class="pu" x="2217.7" y="121" width="83.3" height="49.7"/><text class="bt" font-size="6.8" x="2259.3" y="133"><tspan x="2259.3">Lots of useful</tspan><tspan x="2259.3" dy="10.2">information that</tspan><tspan x="2259.3" dy="10.2">addresses entire UX</tspan><tspan x="2259.3" dy="10.2">org</tspan></text></g>
<g id="be-difficult"><rect class="pu" x="2337.7" y="114" width="100.6" height="60.3"/><text class="bt" font-size="9" x="2388" y="141.3"><tspan x="2388">Difficult to find</tspan><tspan x="2388" dy="12">information on CoE</tspan></text></g>
<g id="be-content"><rect class="pu" x="2301" y="218.3" width="92.3" height="55"/><text class="bt" font-size="7.8" x="2347.2" y="238"><tspan x="2347.2">Content needs to be</tspan><tspan x="2347.2" dy="11.2">updated regularly</tspan><tspan x="2347.2" dy="11.2">(maintenance)</tspan></text></g>
<g id="be-exposure"><rect class="pu" x="2186" y="237.3" width="80" height="47.7"/><text class="bt" font-size="6.5" x="2226" y="254"><tspan x="2226">Bigger exposure</tspan><tspan x="2226" dy="9.7">outside of UX</tspan><tspan x="2226" dy="9.7">umbrella</tspan></text></g>
<g id="be-partners"><rect class="pu" x="2146" y="282.3" width="76.7" height="45"/><text class="bt" font-size="6.5" x="2184.3" y="303"><tspan x="2184.3">Make it useful for</tspan><tspan x="2184.3" dy="9.5">our partners</tspan></text></g>
<g id="be-awareness"><rect class="pu" x="2244" y="351.7" width="74.3" height="44.3"/><text class="bt" font-size="6.5" x="2281.2" y="367.3"><tspan x="2281.2">Build greater</tspan><tspan x="2281.2" dy="9">awareness</tspan><tspan x="2281.2" dy="9">and findability</tspan></text></g>
<g id="be-engage"><rect class="pu" x="2219.3" y="389" width="65.7" height="39.3"/><text class="bt" font-size="5.5" x="2252.2" y="407"><tspan x="2252.2">Engage the UX</tspan><tspan x="2252.2" dy="7.7">community</tspan></text></g>
<g id="be-unreliable"><rect class="pu" x="2336.7" y="344" width="85" height="41.7"/><text class="bt" font-size="6" x="2379.2" y="358"><tspan x="2379.2">Information seems to</tspan><tspan x="2379.2" dy="8.7">be unreliable/not</tspan><tspan x="2379.2" dy="8.7">updated (update it)</tspan></text></g>
<g id="be-additional"><rect class="pu" x="2297.7" y="412.3" width="78" height="46.7"/><text class="bt" font-size="6" x="2336.7" y="419.5"><tspan x="2336.7">Additional info from</tspan><tspan x="2336.7" dy="9">other UX teams need</tspan><tspan x="2336.7" dy="9">to be incorporated (QX</tspan><tspan x="2336.7" dy="9">score, design</tspan><tspan x="2336.7" dy="9">checkpoints, etc)</tspan></text></g>
</svg>
